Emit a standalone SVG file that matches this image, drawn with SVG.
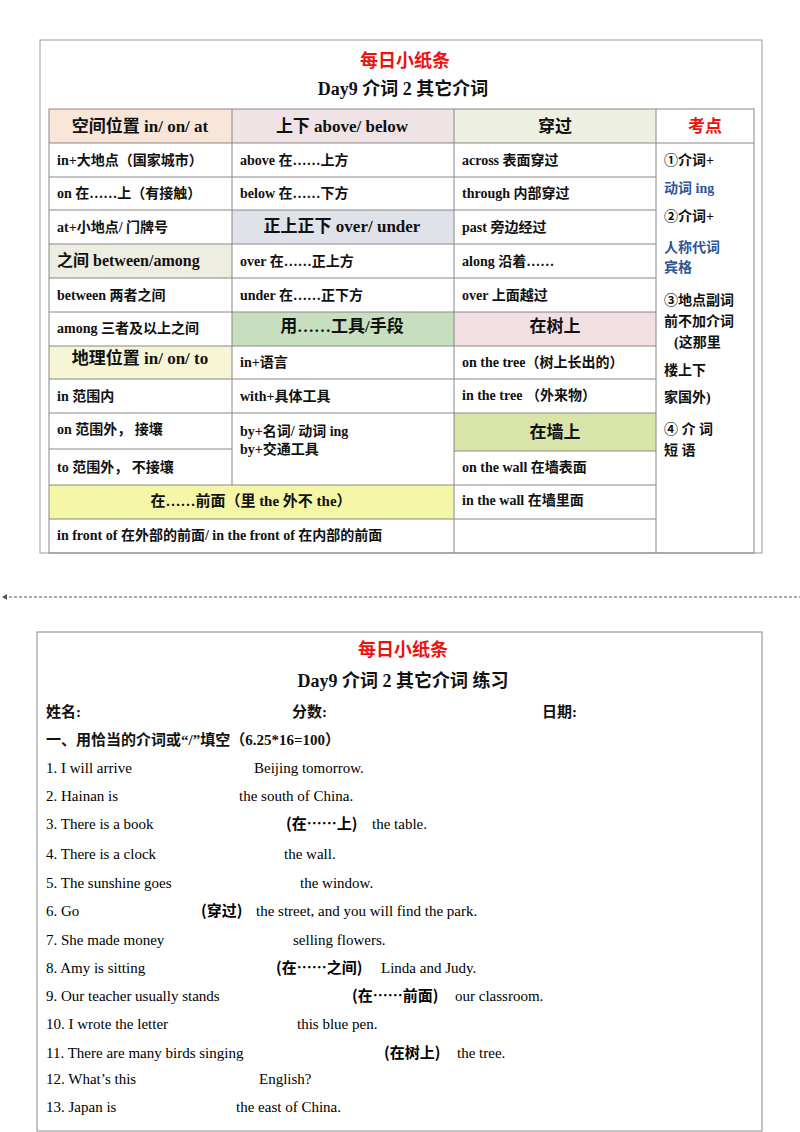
<svg xmlns="http://www.w3.org/2000/svg" width="800" height="1132" viewBox="0 0 800 1132">
<style>
text{font-family:"Liberation Serif","Noto Sans CJK SC",serif;font-weight:bold;fill:#111}
.c{font-size:14px}
.h{font-size:17px;text-anchor:middle}
.m{text-anchor:middle}
.red{fill:#f01010;font-family:"Noto Sans CJK SC",sans-serif}
.blue{fill:#2e5597}
.g line{stroke:#888;stroke-width:1}
.q{font-size:15px;font-weight:normal;fill:#000;font-family:"Liberation Serif","Noto Sans CJK SC",serif}
.qz{font-weight:bold;font-family:"Noto Sans CJK SC",sans-serif}
</style>
<rect width="800" height="1132" fill="#fff"/>
<g id="page1">
<rect x="40" y="40" width="722" height="513" fill="#fff" stroke="#999"/>
<text x="405" y="67" class="h red" style="font-size:18px">每日小纸条</text>
<text x="403" y="95" class="h" style="font-size:18px">Day9  介词 2  其它介词</text>
<rect x="49" y="109" width="183" height="34" fill="#f9e6d8"/>
<rect x="232" y="109" width="222" height="34" fill="#efe3e5"/>
<rect x="454" y="109" width="202" height="34" fill="#edf0e1"/>
<rect x="232" y="210" width="222" height="34" fill="#dfe2e8"/>
<rect x="49" y="244" width="183" height="34" fill="#eeede1"/>
<rect x="232" y="312" width="222" height="34" fill="#c6e0bf"/>
<rect x="454" y="312" width="202" height="34" fill="#f2dfe1"/>
<rect x="49" y="346" width="183" height="33" fill="#f6f6d6"/>
<rect x="454" y="413" width="202" height="38" fill="#d9e5a8"/>
<rect x="49" y="485" width="405" height="34" fill="#f5f7a6"/>
<g class="g">
<rect x="49" y="109" width="705" height="444" fill="none" stroke="#888"/>
<line x1="232" y1="109" x2="232" y2="485"/>
<line x1="454" y1="109" x2="454" y2="553"/>
<line x1="656" y1="109" x2="656" y2="553"/>
<line x1="49" y1="143" x2="754" y2="143"/>
<line x1="49" y1="177" x2="656" y2="177"/>
<line x1="49" y1="210" x2="656" y2="210"/>
<line x1="49" y1="244" x2="656" y2="244"/>
<line x1="49" y1="278" x2="656" y2="278"/>
<line x1="49" y1="312" x2="656" y2="312"/>
<line x1="49" y1="346" x2="656" y2="346"/>
<line x1="49" y1="379" x2="656" y2="379"/>
<line x1="49" y1="413" x2="656" y2="413"/>
<line x1="49" y1="449" x2="232" y2="449"/>
<line x1="454" y1="451" x2="656" y2="451"/>
<line x1="49" y1="485" x2="656" y2="485"/>
<line x1="49" y1="519" x2="656" y2="519"/>
</g>
<text x="140" y="132" class="h">空间位置 in/ on/ at</text>
<text x="342" y="132" class="h">上下 above/ below</text>
<text x="555" y="132" class="h">穿过</text>
<text x="705" y="132" class="h red">考点</text>
<text x="57" y="165" class="c">in+大地点（国家城市）</text>
<text x="57" y="198" class="c">on 在……上（有接触）</text>
<text x="57" y="232" class="c">at+小地点/  门牌号</text>
<text x="57" y="266" class="c" style="font-size:16px">之间 between/among</text>
<text x="57" y="300" class="c">between 两者之间</text>
<text x="57" y="333" class="c">among 三者及以上之间</text>
<text x="140" y="364" class="h">地理位置 in/ on/ to</text>
<text x="57" y="401" class="c">in  范围内</text>
<text x="57" y="434" class="c">on 范围外，  接壤</text>
<text x="57" y="472" class="c">to 范围外，  不接壤</text>
<text x="251" y="506" class="c m" style="font-size:15px">在……前面（里 the 外不 the）</text>
<text x="57" y="540" class="c">in front of 在外部的前面/ in the front of 在内部的前面</text>
<text x="240" y="165" class="c">above 在……上方</text>
<text x="240" y="198" class="c">below 在……下方</text>
<text x="342" y="232" class="h">正上正下 over/ under</text>
<text x="240" y="266" class="c">over 在……正上方</text>
<text x="240" y="300" class="c">under 在……正下方</text>
<text x="342" y="332" class="h">用……工具/手段</text>
<text x="240" y="367" class="c">in+语言</text>
<text x="240" y="401" class="c">with+具体工具</text>
<text x="240" y="436" class="c">by+名词/  动词 ing</text>
<text x="240" y="454" class="c">by+交通工具</text>
<text x="462" y="165" class="c">across 表面穿过</text>
<text x="462" y="198" class="c">through  内部穿过</text>
<text x="462" y="232" class="c">past 旁边经过</text>
<text x="462" y="266" class="c">along 沿着……</text>
<text x="462" y="300" class="c">over  上面越过</text>
<text x="555" y="332" class="h">在树上</text>
<text x="462" y="367" class="c">on the tree（树上长出的）</text>
<text x="462" y="400" class="c">in the tree  （外来物）</text>
<text x="555" y="438" class="h">在墙上</text>
<text x="462" y="472" class="c">on the wall 在墙表面</text>
<text x="462" y="505" class="c">in the wall 在墙里面</text>
<text x="664" y="165" class="c">①介词+</text>
<text x="664" y="193" class="c blue">动词 ing</text>
<text x="664" y="221" class="c">②介词+</text>
<text x="664" y="252" class="c blue">人称代词</text>
<text x="664" y="272" class="c blue">宾格</text>
<text x="664" y="305" class="c">③地点副词</text>
<text x="664" y="326" class="c">前不加介词</text>
<text x="674" y="347" class="c">(这那里</text>
<text x="664" y="375" class="c">楼上下</text>
<text x="664" y="402" class="c">家国外)</text>
<text x="664" y="434" class="c">④ 介 词</text>
<text x="664" y="455" class="c">短 语</text>
</g>
<g id="divider">
<line x1="4" y1="597" x2="800" y2="597" stroke="#555" stroke-dasharray="3,2"/>
<path d="M2 597 L7 594 L7 600 Z" fill="#555"/>
</g>
<g id="page2">
<rect x="37" y="632" width="725" height="499" fill="#fff" stroke="#888"/>
<text x="403" y="656" class="h red" style="font-size:18px">每日小纸条</text>
<text x="403" y="687" class="h" style="font-size:18px">Day9  介词 2  其它介词  练习</text>
<text x="46" y="717" class="c" style="font-size:15px">姓名:</text>
<text x="292" y="717" class="c" style="font-size:15px">分数:</text>
<text x="542" y="717" class="c" style="font-size:15px">日期:</text>
<text x="46" y="745" class="c" style="font-size:15px">一、用恰当的介词或“/”填空（6.25*16=100）</text>
<text class="q" x="46" y="773">1. I will arrive</text><text class="q" x="254" y="773">Beijing tomorrow.</text>
<text class="q" x="46" y="801">2.  Hainan is</text><text class="q" x="239" y="801">the south of China.</text>
<text class="q" x="46" y="829">3. There is a book</text><text class="q qz" x="286" y="829">(在……上)</text><text class="q" x="372" y="829">the table.</text>
<text class="q" x="46" y="859">4. There is a clock</text><text class="q" x="284" y="859">the wall.</text>
<text class="q" x="46" y="888">5. The sunshine goes</text><text class="q" x="300" y="888">the window.</text>
<text class="q" x="46" y="916">6. Go</text><text class="q qz" x="201" y="916">(穿过)</text><text class="q" x="256" y="916">the street, and you will find the park.</text>
<text class="q" x="46" y="945">7. She made money</text><text class="q" x="293" y="945">selling flowers.</text>
<text class="q" x="46" y="973">8. Amy is sitting</text><text class="q qz" x="276" y="973">(在……之间)</text><text class="q" x="381" y="973">Linda and Judy.</text>
<text class="q" x="46" y="1001">9. Our teacher usually stands</text><text class="q qz" x="352" y="1001">(在……前面)</text><text class="q" x="455" y="1001">our classroom.</text>
<text class="q" x="46" y="1029">10. I wrote the letter</text><text class="q" x="297" y="1029">this blue pen.</text>
<text class="q" x="46" y="1058">11. There are many birds singing</text><text class="q qz" x="384" y="1058">(在树上)</text><text class="q" x="457" y="1058">the tree.</text>
<text class="q" x="46" y="1084">12. What’s this</text><text class="q" x="259" y="1084">English?</text>
<text class="q" x="46" y="1112">13. Japan is</text><text class="q" x="236" y="1112">the east of China.</text>
</g>
</svg>
